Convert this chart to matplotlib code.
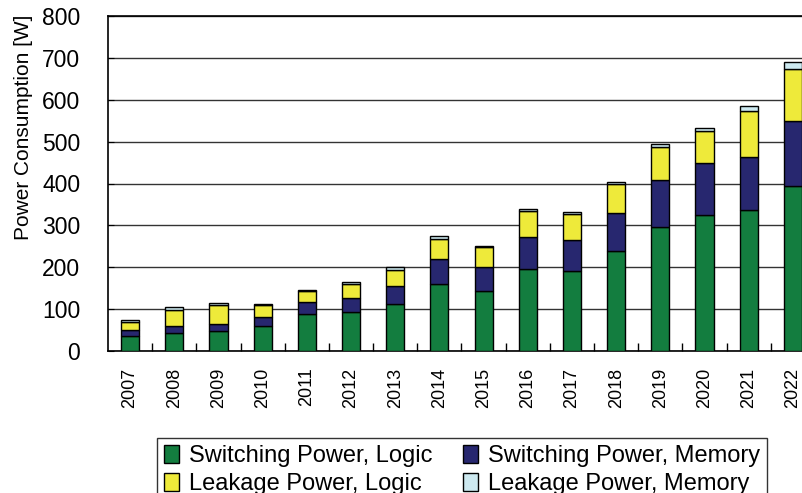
import matplotlib.pyplot as plt
import numpy as np

plt.rcParams['font.family'] = ['Liberation Sans', 'DejaVu Sans']

years = ['2007', '2008', '2009', '2010', '2011', '2012', '2013', '2014',
         '2015', '2016', '2017', '2018', '2019', '2020', '2021', '2022']
# 각 항목 전력값 [W]
switch_logic = [36, 43, 47, 59, 88, 92, 112, 159, 143, 197, 191, 240, 295, 324, 336, 395]
switch_mem = [13, 16, 18, 22, 30, 34, 43, 61, 58, 76, 75, 90, 114, 125, 127, 154]
leak_logic = [21, 38, 44, 29, 25, 34, 39, 47, 47, 61, 60, 68, 79, 76, 109, 125]
leak_mem = [3, 7, 6, 3, 3, 4, 7, 7, 3, 4, 7, 6, 6, 8, 12, 15]

series = [
    (switch_logic, '#137d3f', 'Switching Power, Logic'),
    (switch_mem, '#27276f', 'Switching Power, Memory'),
    (leak_logic, '#eeea3a', 'Leakage Power, Logic'),
    (leak_mem, '#cde9f0', 'Leakage Power, Memory'),
]

fig = plt.figure(figsize=(8.03, 4.93), dpi=100)
ax = fig.add_axes([108/803, 142/493, 707/803, 335/493])

x = np.arange(len(years))
bottom = np.zeros(len(years))
handles = []
for vals, color, label in series:
    b = ax.bar(x, vals, 0.41, bottom=bottom, color=color, edgecolor='black',
               linewidth=1.0, label=label, zorder=3)
    handles.append(b)
    bottom += np.array(vals)

ax.set_xlim(-0.5, len(years) - 0.5)
ax.set_ylim(0, 800)
ax.set_yticks(range(0, 801, 100))
ax.yaxis.grid(True, color='#333333', linewidth=1.0, zorder=0)
ax.tick_params(axis='y', direction='in', length=4, labelsize=16.5, pad=20)
ax.set_xticks(x)
ax.set_xticklabels(years, rotation=90, fontsize=13)
ax.tick_params(axis='x', length=0, pad=12)
ax.set_xticks(np.arange(0.5, len(years) - 0.5, 1), minor=True)
ax.tick_params(axis='x', which='minor', direction='in', length=6, width=1)
ax.spines['right'].set_visible(False)
for s in ['left', 'bottom', 'top']:
    ax.spines[s].set_linewidth(1.2)
ax.set_ylabel('Power Consumption [W]', fontsize=15)
ax.yaxis.set_label_coords(-0.106, 0.669)

# 범례는 행 우선 순서로 배치
order = [0, 2, 1, 3]
leg = fig.legend(handles=[handles[i] for i in order], loc='upper left',
                 bbox_to_anchor=(145/803, 1 - 426/493),
                 ncol=2, fontsize=17, frameon=True, fancybox=False, edgecolor='black',
                 handlelength=0.65, handleheight=0.8, handletextpad=0.4, columnspacing=1.3,
                 borderpad=0.3, labelspacing=0.25)
leg.get_frame().set_linewidth(1.0)

fig.savefig('out.png', dpi=100)
